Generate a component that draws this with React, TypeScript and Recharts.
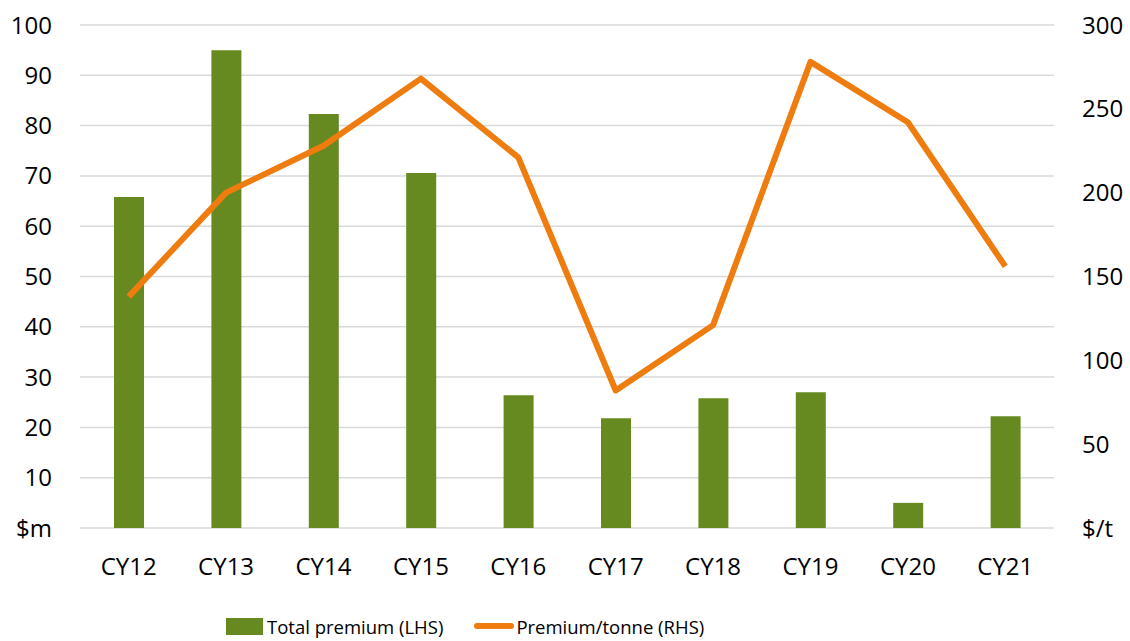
import { ComposedChart, Bar, Line, XAxis, YAxis, CartesianGrid, Legend } from 'recharts';

const years = ['CY12', 'CY13', 'CY14', 'CY15', 'CY16', 'CY17', 'CY18', 'CY19', 'CY20', 'CY21'];
// $m, left axis
const totalPremium = [65.8, 95.0, 82.3, 70.6, 26.4, 21.8, 25.8, 27.0, 5.0, 22.2];
// $/t, right axis
const premiumPerTonne = [138, 200, 228, 268, 221, 82, 121, 278, 242, 156];
const leftTicks = [0, 10, 20, 30, 40, 50, 60, 70, 80, 90, 100];
const rightTicks = [0, 50, 100, 150, 200, 250, 300];

const GREEN = '#678a20';
const ORANGE = '#ee7c0e';
const FONT = '"Open Sans", sans-serif';

const data = years.map((y, i) => ({
  name: y,
  total: totalPremium[i],
  perTonne: premiumPerTonne[i],
}));

function ChartLegend(props: any) {
  // bars first, like the original legend
  const items = [...(props.payload || [])].sort(
    (a: any, b: any) => (a.type === 'line' ? 1 : 0) - (b.type === 'line' ? 1 : 0)
  );
  return (
    <div
      style={{
        display: 'flex',
        alignItems: 'center',
        height: 30,
        paddingLeft: 226,
        fontFamily: FONT,
        fontSize: 18.5,
        color: '#000',
      }}
    >
      {items.map((entry: any, i: number) => (
        <div key={i} style={{ display: 'flex', alignItems: 'center', marginLeft: i === 0 ? 0 : 31 }}>
          {entry.type === 'line' ? (
            <span style={{ width: 40, height: 6, borderRadius: 3, background: entry.color, marginRight: 2 }} />
          ) : (
            <span style={{ width: 37, height: 17, background: entry.color, marginRight: 4 }} />
          )}
          <span>{entry.value}</span>
        </div>
      ))}
    </div>
  );
}

export default function App() {
  return (
    <div style={{ position: 'absolute', left: 0, top: 0, background: '#fff' }}>
      <ComposedChart
        width={1130}
        height={641}
        data={data}
        margin={{ top: 25, right: 0, left: 0, bottom: 0 }}
        barCategoryGap={0}
      >
        <CartesianGrid yAxisId="left" vertical={false} stroke="#d9d9d9" strokeWidth={1.5} />
        <XAxis
          dataKey="name"
          height={83}
          tickSize={0}
          tickMargin={30}
          axisLine={false}
          tick={{ fill: '#000', fontSize: 24, fontFamily: FONT }}
        />
        <YAxis
          yAxisId="left"
          width={80}
          domain={[0, 100]}
          ticks={leftTicks}
          tickSize={0}
          tickMargin={28}
          axisLine={false}
          tickLine={false}
          tick={{ fill: '#000', fontSize: 24, fontFamily: FONT }}
          tickFormatter={v => (v === 0 ? '$m' : String(v))}
        />
        <YAxis
          yAxisId="right"
          orientation="right"
          width={76}
          domain={[0, 300]}
          ticks={rightTicks}
          tickSize={0}
          tickMargin={28}
          axisLine={false}
          tickLine={false}
          tick={{ fill: '#000', fontSize: 24, fontFamily: FONT, textAnchor: 'start' }}
          tickFormatter={v => (v === 0 ? '$/t' : String(v))}
        />
        <Legend verticalAlign="bottom" content={ChartLegend} wrapperStyle={{ left: 0, width: 1130 }} />
        <Bar
          yAxisId="left"
          dataKey="total"
          name="Total premium (LHS)"
          fill={GREEN}
          barSize={30}
          isAnimationActive={false}
        />
        <Line
          yAxisId="right"
          dataKey="perTonne"
          name="Premium/tonne (RHS)"
          type="linear"
          stroke={ORANGE}
          strokeWidth={6}
          strokeLinejoin="round"
          dot={false}
          activeDot={false}
          isAnimationActive={false}
        />
      </ComposedChart>
    </div>
  );
}
